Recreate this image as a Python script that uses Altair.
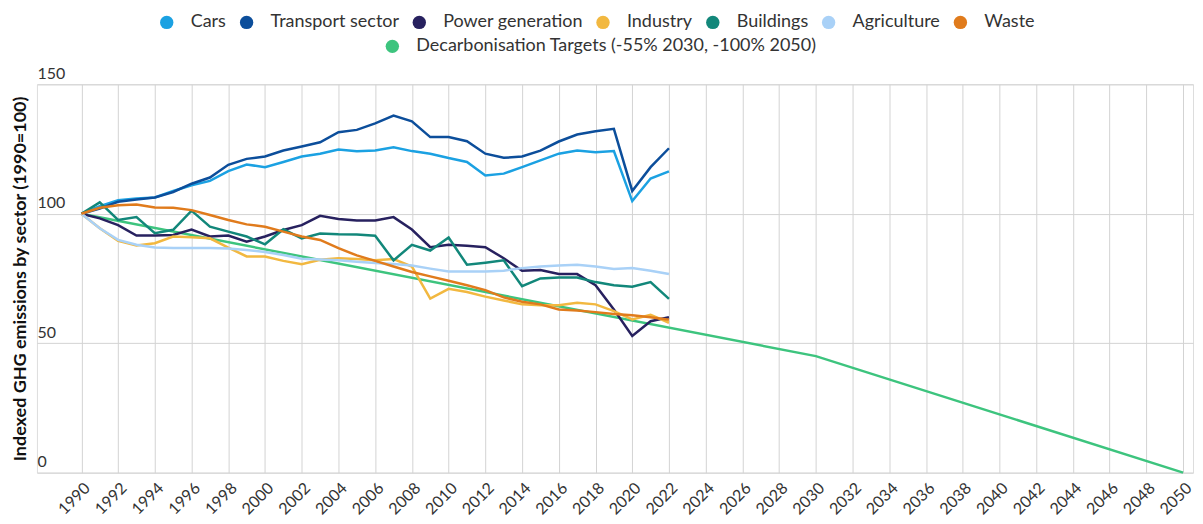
import altair as alt
import pandas as pd

years = list(range(1990, 2023))
sectors = ["Cars", "Transport sector", "Power generation", "Industry",
           "Buildings", "Agriculture", "Waste"]
sector_colors = ["#1ba1e2", "#0c4e9b", "#27215f", "#f2b840",
                 "#12877a", "#a9d1f7", "#e07b1c"]

cars = [100, 102.9, 105.2, 105.9, 106.3, 108.8, 111.0, 112.7, 116.5, 119.0,
        118.0, 120.0, 122.1, 123.2, 124.8, 124.1, 124.4, 125.7, 124.2, 123.2,
        121.5, 120.0, 114.8, 115.5, 118.0, 120.6, 123.2, 124.4, 123.8, 124.2,
        104.9, 113.6, 116.4]
transport = [100, 102.0, 104.6, 105.5, 106.3, 108.4, 111.6, 114.0, 118.9, 121.2,
             122.1, 124.4, 126.0, 127.6, 131.5, 132.4, 134.9, 137.9, 135.7, 129.6,
             129.6, 128.0, 123.2, 121.6, 122.1, 124.4, 127.9, 130.6, 131.9, 132.8,
             108.8, 118.0, 125.3]
power = [100, 98.2, 95.6, 91.6, 91.6, 91.8, 93.9, 91.2, 91.6, 89.2,
         91.2, 93.7, 95.6, 99.2, 98.0, 97.4, 97.4, 98.7, 93.9, 87.1,
         88.0, 87.6, 87.1, 82.8, 78.0, 78.3, 76.7, 76.7, 72.4, 63.0,
         52.8, 58.5, 60.0]
industry = [100, 94.4, 89.5, 87.7, 88.6, 91.2, 90.9, 90.5, 86.9, 83.5,
            83.5, 81.8, 80.5, 82.2, 82.8, 82.5, 82.0, 82.5, 79.6, 67.2,
            71.0, 69.8, 68.0, 66.5, 65.0, 64.7, 64.7, 65.6, 65.0, 62.4,
            59.2, 61.0, 57.9]
buildings = [100, 104.4, 97.6, 98.7, 92.5, 93.8, 101.2, 95.0, 93.1, 91.2,
             88.2, 94.0, 90.5, 92.4, 92.1, 92.0, 91.5, 82.0, 88.0, 85.8,
             90.8, 80.3, 81.1, 82.0, 72.0, 75.0, 75.4, 75.4, 73.6, 72.4,
             71.8, 73.6, 67.1]
agriculture = [100, 94.4, 89.9, 88.0, 87.0, 86.8, 86.8, 86.8, 86.6, 86.0,
               85.2, 84.1, 82.6, 82.3, 82.0, 81.5, 81.0, 80.6, 80.0, 78.8,
               77.7, 77.7, 77.7, 78.0, 79.0, 79.6, 80.0, 80.3, 79.6, 78.7,
               79.0, 78.0, 76.7]
waste = [100, 102.3, 103.3, 103.6, 102.4, 102.3, 101.4, 99.5, 97.6, 95.9,
         95.0, 93.1, 91.2, 89.9, 86.7, 83.9, 81.8, 79.6, 77.5, 75.8,
         74.1, 72.4, 70.5, 67.7, 66.0, 65.0, 63.0, 62.6, 62.0, 61.3,
         60.8, 60.0, 59.1]

target_label = "Decarbonisation Targets (-55% 2030, -100% 2050)"
target_color = "#3dc47e"
target_years = [1990, 2030, 2050]
target_values = [100, 45, 0]

x_ticks = list(range(1990, 2051, 2))
y_ticks = [0, 50, 100, 150]

series_values = [cars, transport, power, industry, buildings, agriculture, waste]
rows = []
for name, vals in zip(sectors, series_values):
    for yr, v in zip(years, vals):
        rows.append({"year": yr, "value": v, "sector": name})
df = pd.DataFrame(rows)
tdf = pd.DataFrame({"year": target_years, "value": target_values,
                    "series": [target_label] * len(target_years)})

FONT = "Lato"
GRID = "#d3d3d3"
BIG = 18

xscale = alt.Scale(domain=[1987.58, 2050.54], nice=False, zero=False)
yscale = alt.Scale(domain=[0, 150], nice=False)

x_axis = alt.Axis(values=x_ticks, format="d", title=None, labelAngle=-45,
                  grid=True, gridColor=GRID, gridWidth=1, domain=False,
                  ticks=False, labelFont=FONT, labelFontSize=16,
                  labelColor="#333333", labelPadding=7,
                  labelFlush=False, labelOverlap=False, labelBound=False)
y_axis = alt.Axis(values=y_ticks, title="Indexed GHG emissions by sector (1990=100)",
                  titleFont=FONT, titleFontSize=BIG, titleFontWeight="bold",
                  titleColor="#111111", titlePadding=7,
                  grid=True, gridColor=GRID, gridWidth=1, domain=False,
                  ticks=False, tickSize=0, labelAlign="left",
                  labelBaseline="bottom", labelPadding=0, labelOffset=-3,
                  labelFont=FONT, labelFontSize=16, labelColor="#333333",
                  labelFlush=False, labelOverlap=False)


def xy():
    return dict(x=alt.X("year:Q", scale=xscale, axis=x_axis),
                y=alt.Y("value:Q", scale=yscale, axis=y_axis))


sec_scale = alt.Scale(domain=sectors, range=sector_colors)
tgt_scale = alt.Scale(domain=[target_label], range=[target_color])

legend_common = dict(orient="none", direction="horizontal", title=None,
                     symbolType="circle", symbolSize=180, symbolStrokeWidth=0,
                     labelFont=FONT, labelFontSize=BIG, labelColor="#333333",
                     labelOffset=15, columnPadding=11, labelLimit=600)

target_line = alt.Chart(tdf).mark_line(strokeWidth=2.5).encode(
    color=alt.Color("series:N", scale=tgt_scale, legend=None), **xy()
)
sector_lines = alt.Chart(df).mark_line(strokeWidth=2.5).encode(
    color=alt.Color("sector:N", scale=sec_scale, legend=None),
    detail="sector:N", **xy()
)
sector_dots = alt.Chart(df).mark_circle(size=0, opacity=1).encode(
    color=alt.Color("sector:N", scale=sec_scale,
                    legend=alt.Legend(legendX=121, legendY=-71, columns=7, **legend_common)),
    **xy()
)
target_dots = alt.Chart(tdf).mark_circle(size=0, opacity=1).encode(
    color=alt.Color("series:N", scale=tgt_scale,
                    legend=alt.Legend(legendX=347, legendY=-47, columns=1, **legend_common)),
    **xy()
)

chart = alt.layer(target_line, sector_lines, sector_dots, target_dots).resolve_scale(
    color="independent"
).properties(
    width=1158, height=389,
    padding={"left": 4, "top": 5, "right": 0, "bottom": 0},
).configure_view(stroke=None).configure_axisX(
    labelOverlap=False, labelFlush=False
).configure(background="white")

chart.save("out.html", embed_options={"renderer": "svg", "actions": False})
